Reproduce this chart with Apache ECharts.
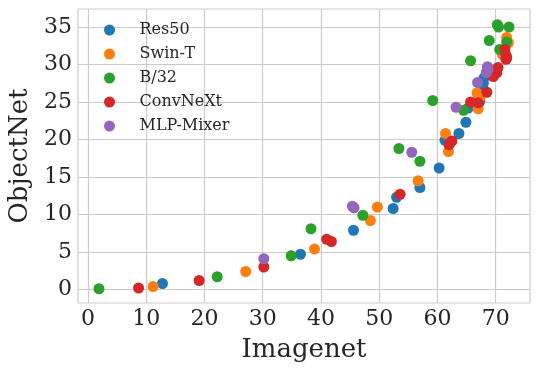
<!DOCTYPE html>
<html>
<head>
<meta charset="utf-8">
<script src="https://cdn.jsdelivr.net/npm/echarts@6/dist/echarts.min.js"></script>
<style>
  html, body { margin: 0; padding: 0; background: #fff; }
  #chart { width: 540px; height: 374px; }
</style>
</head>
<body>
<div id="chart"></div>
<script>
// model names (legend order)
var modelNames = ['Res50', 'Swin-T', 'B/32', 'ConvNeXt', 'MLP-Mixer']
var colors = ['#1f77b4', '#ff7f0e', '#2ca02c', '#d62728', '#9467bd']

// [imagenet, objectnet] pairs
var res50 = [[12.8, 0.8], [36.5, 4.7], [45.6, 7.9], [52.4, 10.8], [53.0, 12.3], [57.0, 13.6],
  [60.3, 16.2], [61.3, 19.9], [63.7, 20.8], [64.9, 22.3], [65.3, 24.2], [67.3, 25.1],
  [67.9, 26.7], [67.9, 27.5], [68.0, 28.2]]
var swinT = [[11.2, 0.4], [27.1, 2.4], [38.9, 5.4], [48.5, 9.2], [49.7, 11.0], [56.7, 14.5],
  [61.4, 20.8], [61.9, 18.4], [67.0, 24.1], [67.3, 25.6], [66.8, 26.2], [70.9, 31.8],
  [71.9, 33.6], [72.2, 32.9], [71.2, 31.3]]
var b32 = [[1.9, 0.1], [22.2, 1.7], [34.9, 4.5], [38.3, 8.1], [47.2, 9.9], [53.4, 18.8],
  [57.0, 17.1], [59.2, 25.2], [64.5, 23.9], [65.7, 30.5], [68.9, 33.2], [70.3, 35.3],
  [70.5, 35.0], [72.3, 35.0], [71.9, 33.0], [70.7, 32.0]]
var convNeXt = [[8.7, 0.2], [19.1, 1.2], [30.2, 3.0], [41.0, 6.7], [41.8, 6.4], [53.6, 12.7],
  [62.0, 19.3], [62.5, 19.8], [65.7, 25.0], [67.0, 24.9], [68.5, 26.3], [69.6, 28.4],
  [70.2, 28.9], [70.4, 29.6], [71.8, 30.7], [71.8, 31.2], [71.6, 32.0], [71.9, 30.9]]
var mlpMixer = [[30.2, 4.1], [45.4, 11.1], [45.7, 10.9], [55.6, 18.3], [63.2, 24.3],
  [66.9, 27.6], [68.5, 29.1], [68.6, 29.7], [68.4, 28.9], [68.7, 29.4]]

var xTicks = [0, 10, 20, 30, 40, 50, 60, 70]
var yTicks = [0, 5, 10, 15, 20, 25, 30, 35]

var allData = [res50, swinT, b32, convNeXt, mlpMixer]

var chart = echarts.init(document.getElementById('chart'), null, { renderer: 'canvas' })
var font = 'DejaVu Serif'
var textColor = '#262626'
var gridColor = '#cccccc'

var option = {
  backgroundColor: '#ffffff',
  animation: false,
  textStyle: { fontFamily: font },
  grid: {
    left: 78,
    right: 10,
    top: 9,
    bottom: 71,
    outerBoundsMode: 'none',
    containLabel: false,
    show: true,
    borderColor: gridColor,
    borderWidth: 1.2
  },
  legend: {
    orient: 'vertical',
    left: 99,
    top: 17,
    itemWidth: 50,
    itemHeight: 11,
    itemGap: 8,
    icon: 'circle',
    textStyle: { fontFamily: font, fontSize: 16, color: textColor },
    data: modelNames
  },
  xAxis: {
    type: 'value',
    min: -1.7,
    max: 75.9,
    name: 'Imagenet',
    nameLocation: 'middle',
    nameGap: 34,
    nameTextStyle: { fontFamily: font, fontSize: 26, color: textColor },
    axisLine: { show: false },
    axisTick: { show: false, customValues: xTicks },
    axisLabel: { customValues: xTicks, fontFamily: font, fontSize: 22, color: textColor, margin: 5 },
    splitLine: { show: true, lineStyle: { color: gridColor, width: 1.2 } }
  },
  yAxis: {
    type: 'value',
    min: -1.8,
    max: 37.4,
    name: 'ObjectNet',
    nameLocation: 'middle',
    nameGap: 44,
    nameTextStyle: { fontFamily: font, fontSize: 26, color: textColor },
    axisLine: { show: false },
    axisTick: { show: false, customValues: yTicks },
    axisLabel: { customValues: yTicks, fontFamily: font, fontSize: 22, color: textColor, margin: 6 },
    splitLine: { show: true, lineStyle: { color: gridColor, width: 1.2 } }
  },
  series: modelNames.map(function(name, i) {
    return {
      name: name,
      type: 'scatter',
      symbol: 'circle',
      symbolSize: 11,
      itemStyle: { color: colors[i], opacity: 1 },
      data: allData[i]
    }
  })
}
chart.setOption(option)
</script>
</body>
</html>
